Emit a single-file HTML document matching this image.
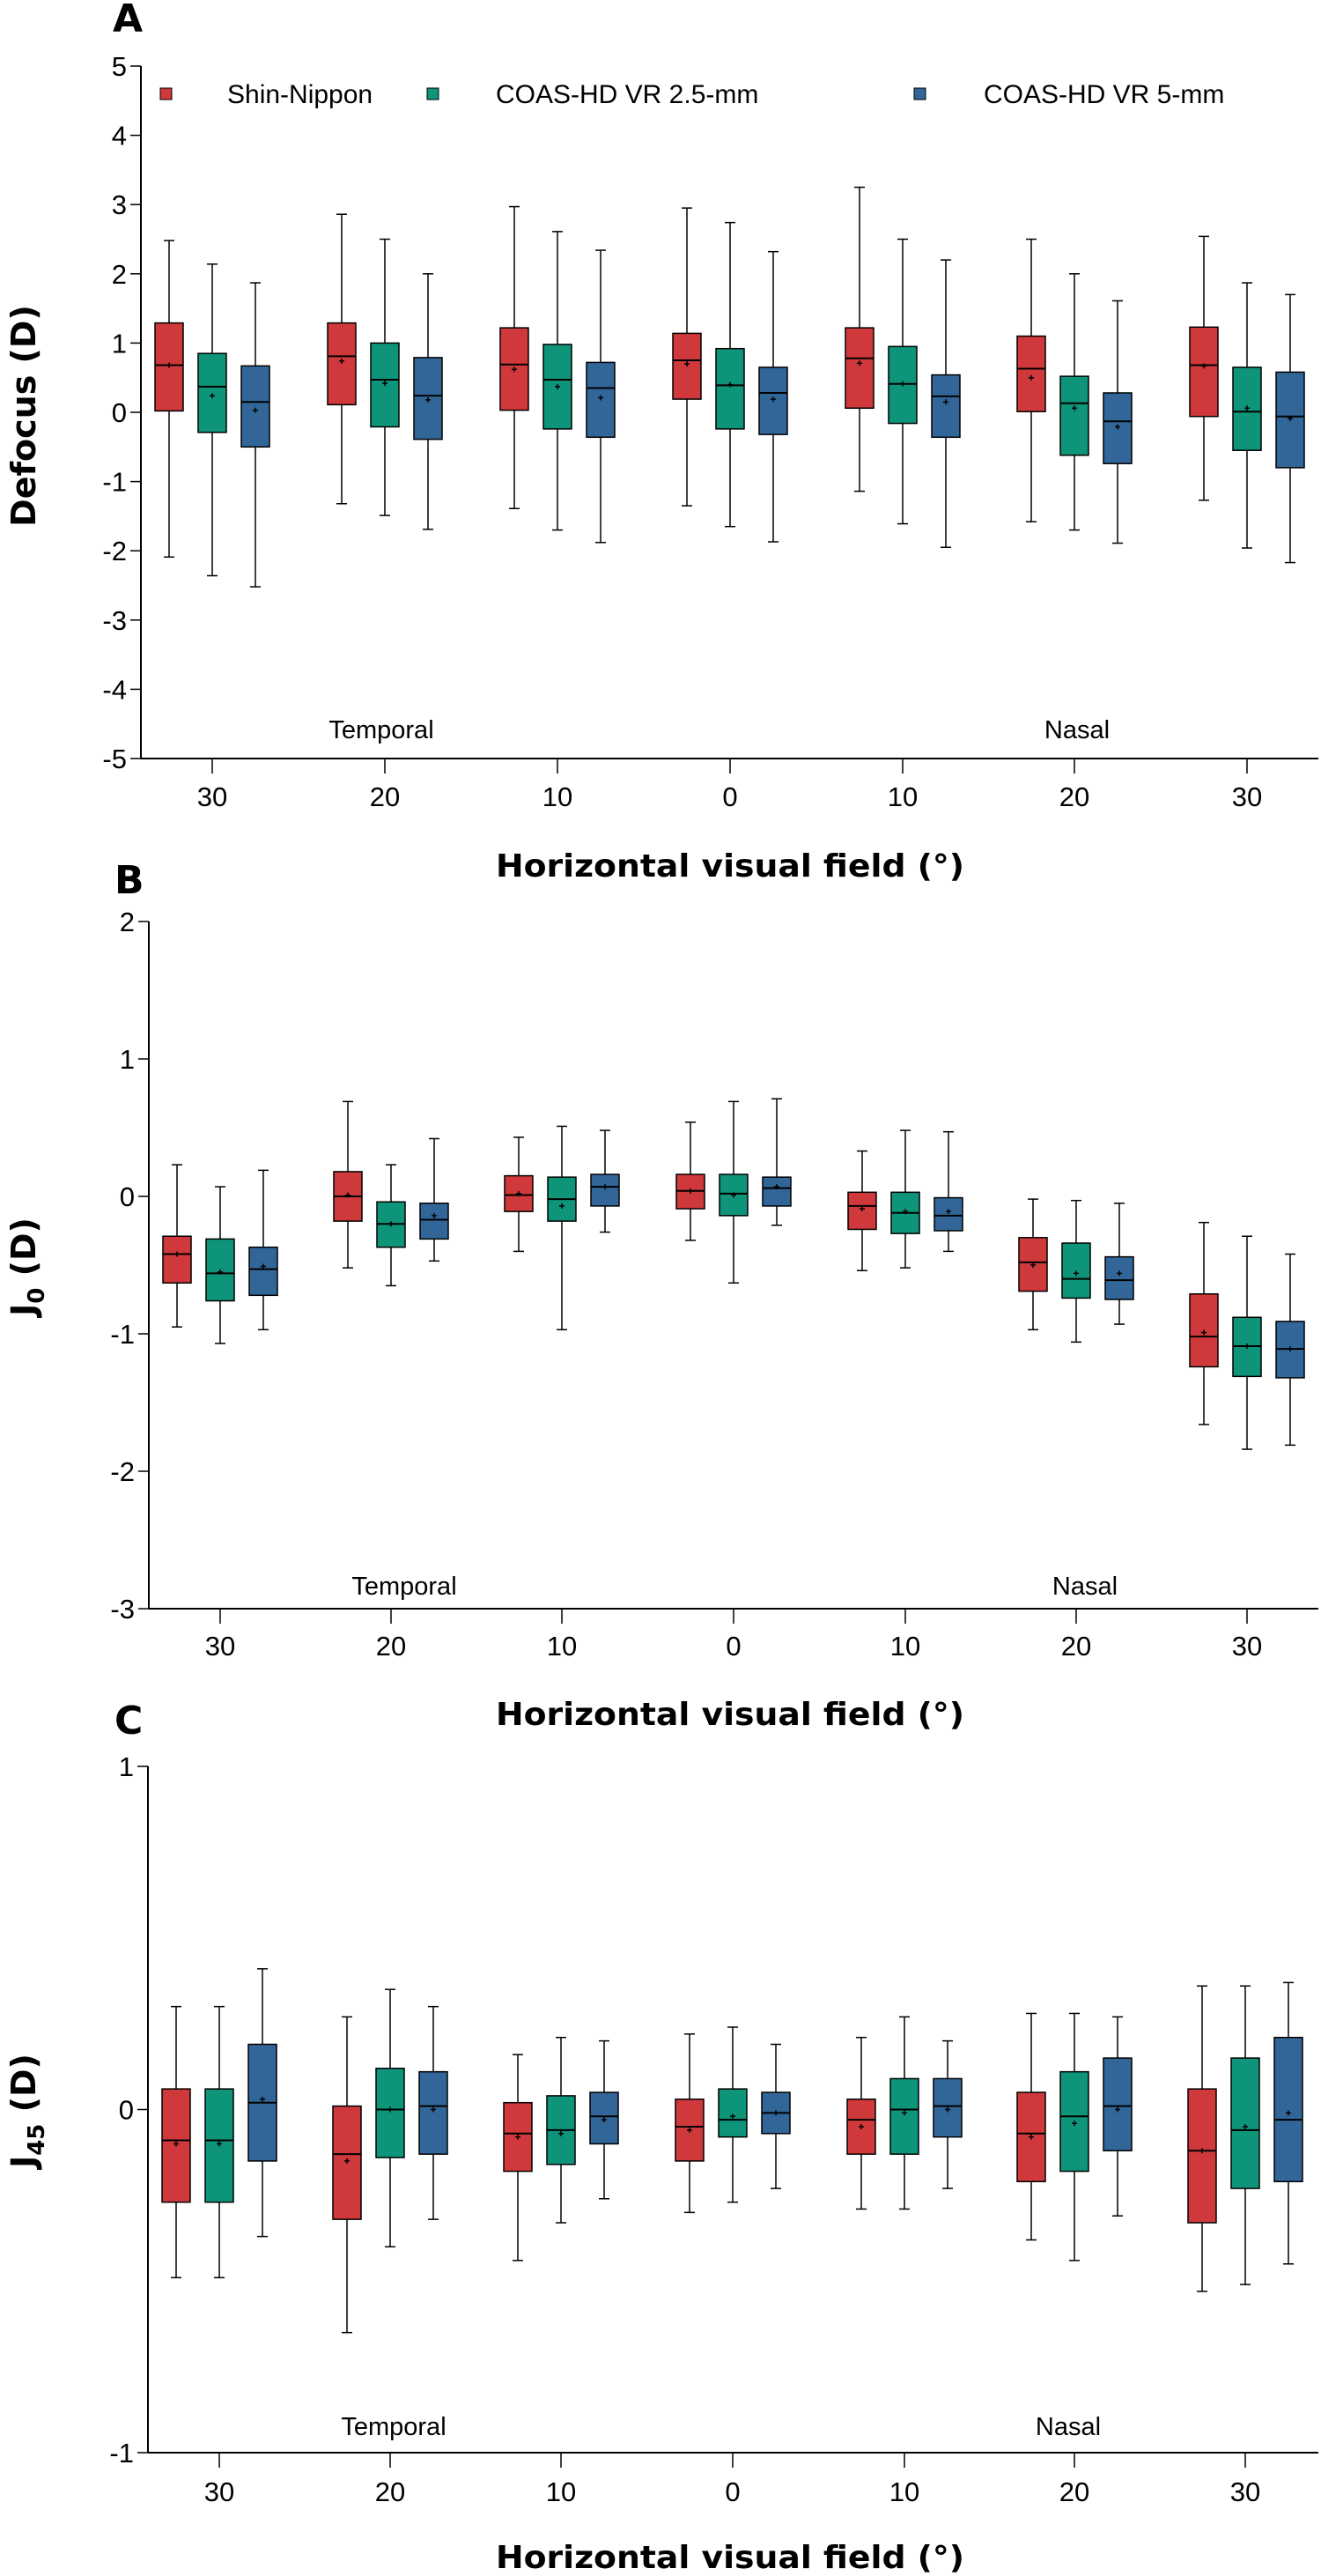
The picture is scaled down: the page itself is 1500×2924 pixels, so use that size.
<!DOCTYPE html>
<html><head><meta charset="utf-8"><style>
html,body{margin:0;padding:0;background:#fff}
svg{display:block}
text{font-family:"Liberation Sans Narrow","Liberation Sans",sans-serif;fill:#000}
.b{font-family:"DejaVu Sans","Liberation Sans",sans-serif;font-weight:bold}
</style></head><body>
<svg id="chart" width="1500" height="2924" viewBox="0 0 1500 2924" xmlns="http://www.w3.org/2000/svg"></svg>
<script>
const categories = ["30","20","10","0","10","20","30"];
const seriesNames = ["Shin-Nippon","COAS-HD VR 2.5-mm","COAS-HD VR 5-mm"];
const colors = ["#d0393b","#0e9479","#326699"];
// each box: [whiskerTop, q3, median, mean, q1, whiskerBottom]
const defocusShin = [[2.48,1.29,0.68,0.68,0.02,-2.09],[2.86,1.29,0.81,0.74,0.11,-1.32],[2.97,1.22,0.69,0.62,0.03,-1.39],[2.95,1.14,0.75,0.70,0.19,-1.35],[3.25,1.22,0.78,0.71,0.06,-1.14],[2.5,1.10,0.63,0.50,0.01,-1.58],[2.54,1.23,0.68,0.67,-0.06,-1.27]];
const defocusC25 = [[2.14,0.85,0.37,0.24,-0.29,-2.36],[2.5,1.0,0.47,0.42,-0.21,-1.49],[2.61,0.98,0.47,0.37,-0.24,-1.70],[2.74,0.92,0.39,0.40,-0.24,-1.65],[2.5,0.95,0.41,0.41,-0.16,-1.61],[2.0,0.52,0.13,0.06,-0.62,-1.70],[1.87,0.65,0.01,0.06,-0.55,-1.96]];
const defocusC5 = [[1.87,0.67,0.15,0.03,-0.50,-2.52],[2.0,0.79,0.24,0.18,-0.39,-1.69],[2.34,0.72,0.35,0.21,-0.36,-1.88],[2.32,0.65,0.28,0.19,-0.32,-1.87],[2.2,0.54,0.23,0.15,-0.36,-1.95],[1.61,0.28,-0.13,-0.21,-0.74,-1.89],[1.70,0.58,-0.06,-0.09,-0.80,-2.17]];
const j0Shin = [[0.23,-0.29,-0.42,-0.42,-0.63,-0.95],[0.69,0.18,0.0,0.01,-0.18,-0.52],[0.43,0.15,0.01,0.02,-0.11,-0.40],[0.54,0.16,0.04,0.04,-0.09,-0.32],[0.33,0.03,-0.07,-0.09,-0.24,-0.54],[-0.02,-0.30,-0.48,-0.50,-0.69,-0.97],[-0.19,-0.71,-1.02,-0.99,-1.24,-1.66]];
const j0C25 = [[0.07,-0.31,-0.56,-0.55,-0.76,-1.07],[0.23,-0.04,-0.20,-0.20,-0.37,-0.65],[0.51,0.14,-0.02,-0.07,-0.18,-0.97],[0.69,0.16,0.02,0.01,-0.14,-0.63],[0.48,0.03,-0.12,-0.11,-0.27,-0.52],[-0.03,-0.34,-0.60,-0.56,-0.74,-1.06],[-0.29,-0.88,-1.09,-1.09,-1.31,-1.84]];
const j0C5 = [[0.19,-0.37,-0.53,-0.51,-0.72,-0.97],[0.42,-0.05,-0.17,-0.14,-0.31,-0.47],[0.48,0.16,0.07,0.07,-0.07,-0.26],[0.71,0.14,0.06,0.07,-0.07,-0.21],[0.47,-0.01,-0.14,-0.11,-0.25,-0.40],[-0.05,-0.44,-0.61,-0.56,-0.75,-0.93],[-0.42,-0.91,-1.11,-1.11,-1.32,-1.81]];
const j45Shin = [[0.30,0.06,-0.09,-0.10,-0.27,-0.49],[0.27,0.01,-0.13,-0.15,-0.32,-0.65],[0.16,0.02,-0.07,-0.08,-0.18,-0.44],[0.22,0.03,-0.05,-0.06,-0.15,-0.30],[0.21,0.03,-0.03,-0.05,-0.13,-0.29],[0.28,0.05,-0.07,-0.08,-0.21,-0.38],[0.36,0.06,-0.12,-0.12,-0.33,-0.53]];
const j45C25 = [[0.30,0.06,-0.09,-0.10,-0.27,-0.49],[0.35,0.12,0.0,0.0,-0.14,-0.40],[0.21,0.04,-0.06,-0.07,-0.16,-0.33],[0.24,0.06,-0.03,-0.02,-0.08,-0.27],[0.27,0.09,0.0,-0.01,-0.13,-0.29],[0.28,0.11,-0.02,-0.04,-0.18,-0.44],[0.36,0.15,-0.06,-0.05,-0.23,-0.51]];
const j45C5 = [[0.41,0.19,0.02,0.03,-0.15,-0.37],[0.30,0.11,0.01,0.0,-0.13,-0.32],[0.20,0.05,-0.02,-0.03,-0.10,-0.26],[0.19,0.05,-0.01,-0.01,-0.07,-0.23],[0.20,0.09,0.01,0.0,-0.08,-0.23],[0.27,0.15,0.01,0.0,-0.12,-0.31],[0.37,0.21,-0.03,-0.01,-0.21,-0.45]];
const ticksA = [-5,-4,-3,-2,-1,0,1,2,3,4,5];
const ticksB = [-3,-2,-1,0,1,2];
const ticksC = [-1,0,1];

const NS="http://www.w3.org/2000/svg";
const svg=document.getElementById('chart');
function el(tag,attrs,parent,txt){const e=document.createElementNS(NS,tag);for(const k in attrs)e.setAttribute(k,attrs[k]);if(txt!==undefined)e.textContent=txt;(parent||svg).appendChild(e);return e;}

const panels=[
 {letter:"A",lx:128,ly:36,axX:160,top:75,bot:861,min:-5,max:5,ticks:ticksA,cx:[241,437,633,829,1025,1220,1416],series:[defocusShin,defocusC25,defocusC5],title:"Defocus (D)",sub:null,ty:472,tl:[433,1223],tly:838,lab:904,xt:995,legend:true},
 {letter:"B",lx:130,ly:1014,axX:169,top:1046,bot:1826,min:-3,max:2,ticks:ticksB,cx:[250,444,638,833,1028,1222,1416],series:[j0Shin,j0C25,j0C5],title:"J",sub:"0",ty:1438,tl:[459,1232],tly:1810,lab:1868,xt:1958},
 {letter:"C",lx:130,ly:1968,axX:168,top:2005,bot:2784,min:-1,max:1,ticks:ticksC,cx:[249,443,637,832,1027,1220,1414],series:[j45Shin,j45C25,j45C5],title:"J",sub:"45",ty:2396,tl:[447,1213],tly:2764,lab:2828,xt:2915}
];
panels.forEach((p,pi)=>{
  const g=el('g',{});
  
  
  const y=v=>p.bot-(v-p.min)/(p.max-p.min)*(p.bot-p.top);
  const t=el('text',{x:p.lx,y:p.ly,class:'b','font-size':44},g,p.letter);
  
  
  // axes
  const ya=el('line',{x1:p.axX,y1:p.top,x2:p.axX,y2:p.bot,stroke:'#000','stroke-width':2},g);
  
  
  const xa=el('line',{x1:p.axX,y1:p.bot,x2:1497,y2:p.bot,stroke:'#000','stroke-width':2},g);
  
  
  p.ticks.forEach(v=>{
    el('line',{x1:p.axX-12,y1:y(v),x2:p.axX,y2:y(v),stroke:'#000','stroke-width':1.5},g);
    const tx=el('text',{x:p.axX-16,y:y(v)+11,'text-anchor':'end','font-size':31},g,String(v));
    
    
  });
  p.cx.forEach((c,i)=>{
    el('line',{x1:c,y1:p.bot,x2:c,y2:p.bot+17,stroke:'#000','stroke-width':1.5},g);
    const tx=el('text',{x:c,y:p.lab+11,'text-anchor':'middle','font-size':31},g,categories[i]);
    
    
  });
  // y title
  const yt=el('text',{x:0,y:0,class:'b','font-size':38,'text-anchor':'middle',transform:`translate(40,${p.ty}) rotate(-90)`},g);
  
  
  if(p.sub){
    el('tspan',{},yt,p.title);
    el('tspan',{'font-size':26,dy:10},yt,p.sub);
    el('tspan',{dy:-10},yt,' (D)');
  } else yt.textContent=p.title;
  // x title
  const xt=el('text',{x:829,y:p.xt,class:'b','font-size':36,'text-anchor':'middle',textLength:532,lengthAdjust:'spacingAndGlyphs'},g,'Horizontal visual field (°)');
  
  
  ['Temporal','Nasal'].forEach((s,i)=>{
    const tt=el('text',{x:p.tl[i],y:p.tly,'text-anchor':'middle','font-size':29},g,s);
    
    
  });
  // boxes
  p.series.forEach((ser,si)=>{
    ser.forEach((d,ci)=>{
      const cx=p.cx[ci]+(si-1)*49, w=32;
      const bg=el('g',{},g);
      
      
      el('line',{x1:cx,y1:y(d[0]),x2:cx,y2:y(d[5]),stroke:'#000','stroke-width':1.5},bg);
      el('line',{x1:cx-6,y1:y(d[0]),x2:cx+6,y2:y(d[0]),stroke:'#000','stroke-width':1.5},bg);
      el('line',{x1:cx-6,y1:y(d[5]),x2:cx+6,y2:y(d[5]),stroke:'#000','stroke-width':1.5},bg);
      el('rect',{x:cx-w/2,y:y(d[1]),width:w,height:y(d[4])-y(d[1]),fill:colors[si],stroke:'#000','stroke-width':1.5},bg);
      el('line',{x1:cx-w/2,y1:y(d[2]),x2:cx+w/2,y2:y(d[2]),stroke:'#000','stroke-width':2},bg);
      el('path',{d:`M${cx-3} ${y(d[3])}h6M${cx} ${y(d[3])-3}v6`,stroke:'#000','stroke-width':1.5},bg);
    });
  });
  if(p.legend){
    const lx=[[182,258],[485,563],[1038,1117]];
    seriesNames.forEach((n,i)=>{
      const lg=el('g',{},g);
      
      
      el('rect',{x:lx[i][0],y:100,width:13,height:13,fill:colors[i],stroke:'#000','stroke-width':1},lg);
      el('text',{x:lx[i][1],y:117,'font-size':30},lg,n);
    });
  }
});
</script>
</body></html>
